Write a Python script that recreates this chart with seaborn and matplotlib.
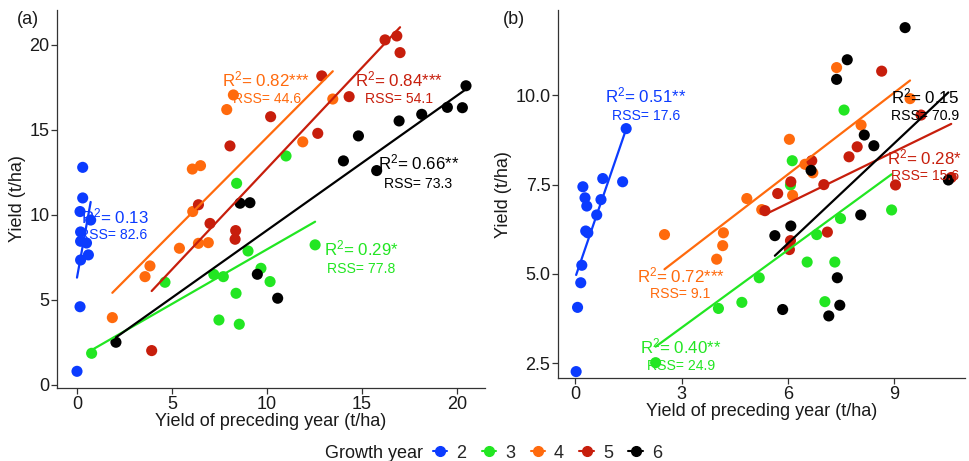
import numpy as np
import pandas as pd
import matplotlib
matplotlib.use("Agg")
import matplotlib.pyplot as plt
from matplotlib.lines import Line2D
import seaborn as sns

# ---------------- data ----------------
growth_years = [2, 3, 4, 5, 6]
colors = ["#0B3BFF", "#22E622", "#FF6A0D", "#C71E0C", "#000000"]

# Panel (a)
a2_x = [0.30, 0.30, 0.16, 0.72, 0.19, 0.19, 0.50, 0.60, 0.19, 0.16, 0.00]
a2_y = [12.8, 11.0, 10.2, 9.7, 9.0, 8.45, 8.35, 7.65, 7.35, 4.6, 0.8]
a3_x = [0.77, 4.63, 7.20, 7.70, 8.37, 7.47, 8.54, 9.00, 8.40, 9.68, 10.16, 12.53, 11.00]
a3_y = [1.86, 6.04, 6.50, 6.37, 5.39, 3.82, 3.57, 7.88, 11.86, 6.86, 6.08, 8.24, 13.47]
a4_x = [1.86, 3.58, 3.84, 5.39, 6.39, 6.91, 6.09, 6.07, 6.50, 7.88, 8.23, 11.88, 13.46]
a4_y = [3.96, 6.37, 7.00, 8.04, 8.33, 8.37, 10.20, 12.70, 12.90, 16.20, 17.06, 14.30, 16.82]
a5_x = [3.93, 6.39, 7.00, 8.35, 8.32, 8.05, 10.19, 12.67, 12.88, 14.32, 16.21, 16.83, 17.00]
a5_y = [2.02, 10.60, 9.50, 9.08, 8.57, 14.06, 15.78, 14.80, 18.18, 16.96, 20.30, 20.53, 19.55]
a6_x = [2.05, 8.58, 9.10, 9.49, 10.56, 14.02, 14.81, 15.77, 16.95, 18.14, 19.49, 20.28, 20.47]
a6_y = [2.51, 10.69, 10.72, 6.51, 5.10, 13.18, 14.65, 12.61, 15.53, 15.92, 16.33, 16.31, 17.60]

# Panel (b)
b2_x = [1.44, 0.78, 1.34, 0.22, 0.28, 0.33, 0.73, 0.61, 0.30, 0.36, 0.19, 0.16, 0.07, 0.03]
b2_y = [9.07, 7.67, 7.58, 7.44, 7.13, 6.90, 7.08, 6.65, 6.20, 6.15, 5.24, 4.75, 4.06, 2.26]
b3_x = [2.27, 4.04, 4.70, 5.19, 6.54, 7.32, 7.04, 6.81, 7.48, 8.92, 7.58, 6.12, 6.07]
b3_y = [2.51, 4.03, 4.20, 4.89, 5.33, 5.33, 4.22, 6.10, 6.55, 6.79, 9.59, 8.17, 7.49]
b4_x = [2.52, 4.18, 4.16, 3.99, 4.84, 5.26, 6.04, 6.13, 6.48, 6.70, 7.37, 8.06, 9.44]
b4_y = [6.10, 6.15, 5.79, 5.41, 7.11, 6.80, 8.77, 7.20, 8.07, 7.83, 10.78, 9.17, 9.91]
b5_x = [5.35, 5.71, 6.08, 6.67, 7.01, 7.72, 7.95, 8.64, 9.03, 9.75, 7.11, 6.07, 6.04, 10.60]
b5_y = [6.77, 7.25, 7.58, 8.17, 7.50, 8.28, 8.56, 10.68, 7.49, 9.45, 6.17, 5.93, 5.68, 7.70]
b6_x = [9.30, 7.67, 7.37, 8.15, 8.42, 6.65, 10.52, 8.05, 6.08, 5.63, 7.39, 7.46, 7.15, 5.85]
b6_y = [11.90, 11.00, 10.45, 8.89, 8.59, 7.90, 7.63, 6.65, 6.34, 6.07, 4.89, 4.12, 3.82, 4.00]

# Fit statistics (labels)
a_r2 = ["R$^{2}$= 0.13", "R$^{2}$= 0.29*", "R$^{2}$= 0.82***", "R$^{2}$= 0.84***", "R$^{2}$= 0.66**"]
a_rss = ["RSS= 82.6", "RSS= 77.8", "RSS= 44.6", "RSS= 54.1", "RSS= 73.3"]
b_r2 = ["R$^{2}$= 0.51**", "R$^{2}$= 0.40**", "R$^{2}$= 0.72***", "R$^{2}$= 0.28*", "R$^{2}$= 0.15"]
b_rss = ["RSS= 17.6", "RSS= 24.9", "RSS= 9.1", "RSS= 15.6", "RSS= 70.9"]

# ---------------- build tables ----------------
def build(xs, ys):
    rows = []
    for g, x, y in zip(growth_years, xs, ys):
        for xi, yi in zip(x, y):
            rows.append({"year": g, "x": xi, "y": yi})
    return pd.DataFrame(rows)

df_a = build([a2_x, a3_x, a4_x, a5_x, a6_x], [a2_y, a3_y, a4_y, a5_y, a6_y])
df_b = build([b2_x, b3_x, b4_x, b5_x, b6_x], [b2_y, b3_y, b4_y, b5_y, b6_y])

# label placement (centre of R² line, centre of RSS line)
a_lab_pos = [((2.0, 9.8), (1.92, 8.94)), ((14.97, 7.88), (14.97, 6.96)),
             ((9.96, 17.84), (10.0, 16.96)), ((16.97, 17.84), (16.95, 16.96)),
             ((17.97, 12.94), (17.95, 11.96))]
b_lab_pos = [((1.99, 9.94), (1.99, 9.49)), ((2.98, 2.91), (2.99, 2.49)),
             ((2.97, 4.90), (2.96, 4.50)), ((9.86, 8.20), (9.86, 7.79)),
             ((9.86, 9.91), (9.85, 9.49))]

# ---------------- style ----------------
sns.set_theme(style="white")
plt.rcParams["font.family"] = ["Liberation Sans", "DejaVu Sans"]
plt.rcParams["mathtext.fontset"] = "custom"
plt.rcParams["mathtext.rm"] = "Liberation Sans"
plt.rcParams["mathtext.default"] = "regular"
palette = dict(zip(growth_years, colors))
axis_col = "#333333"
text_col = "#1a1a1a"

fig = plt.figure(figsize=(9.7, 4.61), dpi=100)
axA = fig.add_axes([0.0588, 0.1584, 0.4412, 0.8200])
axB = fig.add_axes([0.5753, 0.1800, 0.4196, 0.7980])


def draw(ax, df, r2, rss, pos):
    sns.scatterplot(data=df, x="x", y="y", hue="year", palette=palette, s=64,
                    linewidth=0, legend=False, ax=ax, zorder=2)
    for g in growth_years:
        sub = df[df["year"] == g]
        sns.regplot(data=sub, x="x", y="y", scatter=False, ci=None, truncate=True,
                    color=palette[g], line_kws={"lw": 1.6, "zorder": 3}, ax=ax)
    for g, t1, t2, (p1, p2) in zip(growth_years, r2, rss, pos):
        ax.annotate(t1, xy=p1, xytext=(0, 1.6), textcoords="offset points",
                    color=palette[g], fontsize=12.2, ha="center", va="center", zorder=5)
        ax.annotate(t2, xy=p2, xytext=(0, -1.6), textcoords="offset points",
                    color=palette[g], fontsize=10.1, ha="center", va="center", zorder=5)
    for s in ["top", "right"]:
        ax.spines[s].set_visible(False)
    for s in ["left", "bottom"]:
        ax.spines[s].set_color(axis_col)
        ax.spines[s].set_linewidth(0.9)
    ax.tick_params(axis="both", which="both", direction="out", length=4, width=0.9,
                   color=axis_col, labelcolor=text_col, labelsize=13, pad=1.5,
                   bottom=True, left=True)
    ax.set_xlabel("Yield of preceding year (t/ha)", fontsize=13, color=text_col, labelpad=0.5)
    ax.set_ylabel("Yield (t/ha)", fontsize=13, color=text_col, labelpad=2)
    ax.grid(False)


draw(axA, df_a, a_r2, a_rss, a_lab_pos)
draw(axB, df_b, b_r2, b_rss, b_lab_pos)

axA.set_xlim(-1.05, 21.47)
axA.set_ylim(-0.18, 22.06)
axA.set_xticks([0, 5, 10, 15, 20])
axA.set_yticks([0, 5, 10, 15, 20])

axB.set_xlim(-0.48, 10.99)
axB.set_ylim(2.08, 12.39)
axB.set_xticks([0, 3, 6, 9])
axB.set_yticks([2.5, 5.0, 7.5, 10.0])
axB.set_yticklabels(["2.5", "5.0", "7.5", "10.0"])

fig.text(28 / 970, 1 - 20 / 461, "(a)", fontsize=13, ha="center", va="center", color=text_col)
fig.text(514 / 970, 1 - 20 / 461, "(b)", fontsize=13, ha="center", va="center", color=text_col)

# legend at bottom
fig.text(325 / 970, 1 - 453 / 461, "Growth year", fontsize=13, ha="left", va="center", color=text_col)
handles = [Line2D([], [], color=c, marker="o", markersize=7, lw=1.5) for c in colors]
fig.legend(handles, [str(g) for g in growth_years], loc="center left",
           bbox_to_anchor=(433 / 970, 1 - 453 / 461), ncol=5, frameon=False,
           handlelength=0.8, handletextpad=0.5, columnspacing=0.85, fontsize=13,
           borderpad=0, borderaxespad=0)

fig.savefig("out.png", dpi=100)
